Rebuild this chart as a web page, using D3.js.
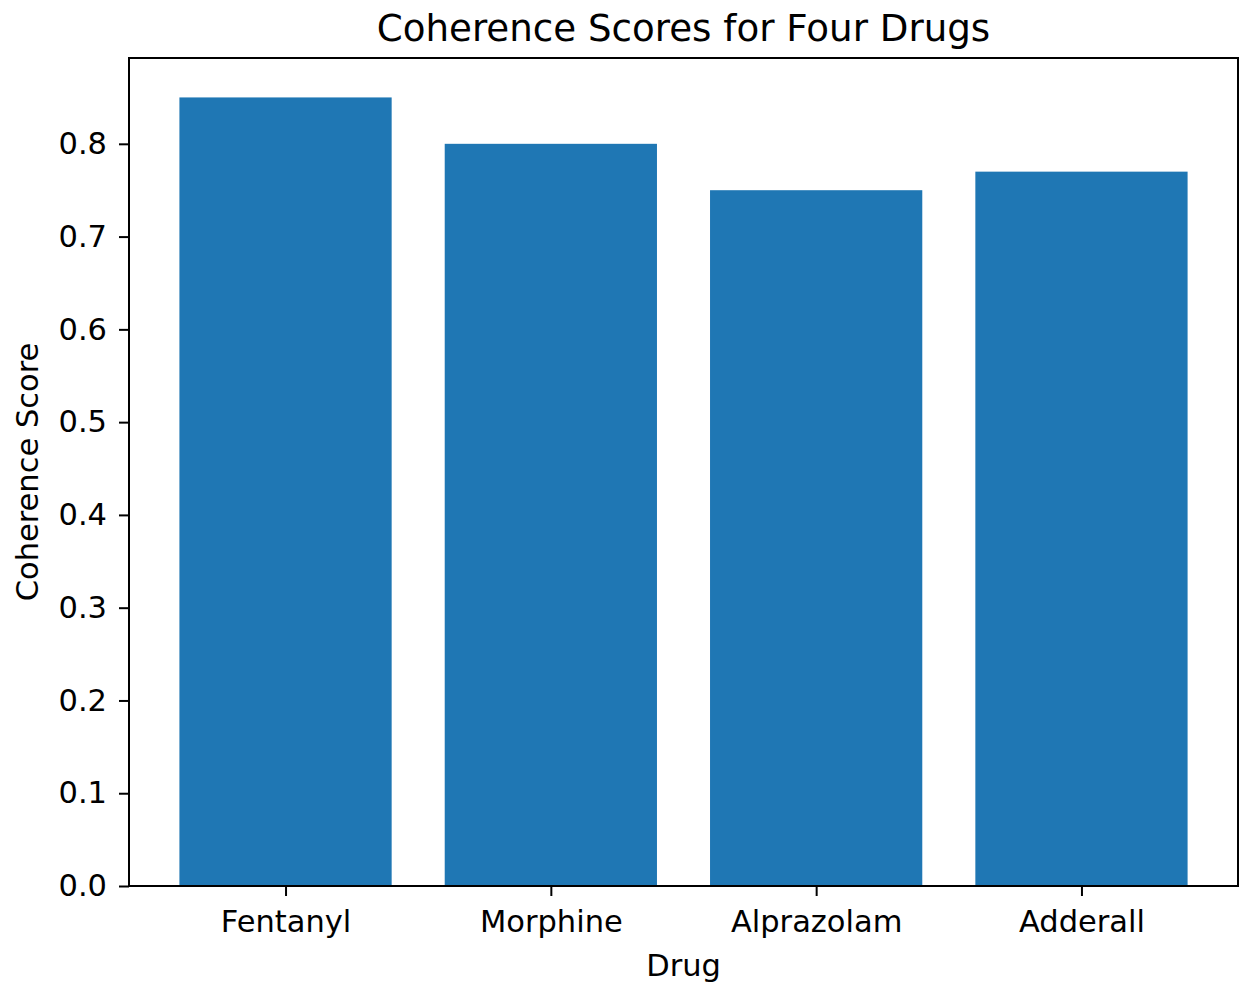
<!DOCTYPE html>
<html>
<head>
<meta charset="utf-8">
<script src="https://cdn.jsdelivr.net/npm/d3@7"></script>
<style>
  html, body { margin: 0; padding: 0; background: #fff; }
  text { font-family: "DejaVu Sans", sans-serif; fill: #000; }
</style>
</head>
<body>
<div id="chart"></div>
<script>
const drugs = ['Fentanyl', 'Morphine', 'Alprazolam', 'Adderall'];
const scores = [0.85, 0.80, 0.75, 0.77];
const yTicks = [0.0, 0.1, 0.2, 0.3, 0.4, 0.5, 0.6, 0.7, 0.8];

const width = 1242;
const height = 988;
const margin = {top: 58, right: 4, bottom: 102, left: 129};
const labelSize = 30.5;

const svg = d3.select('#chart').append('svg')
    .attr('width', width)
    .attr('height', height);

// matplotlib-like limits: bars of width 0.8, 5% x margin, y top = max * 1.05
const x = d3.scaleLinear()
    .domain([-0.59, drugs.length - 1 + 0.59])
    .range([margin.left, width - margin.right]);

const y = d3.scaleLinear()
    .domain([0, d3.max(scores) * 1.05])
    .range([height - margin.bottom, margin.top]);

const barW = 0.8;

svg.append('g')
  .selectAll('rect')
  .data(scores)
  .join('rect')
    .attr('x', (d, i) => x(i - barW / 2))
    .attr('width', (d, i) => x(i + barW / 2) - x(i - barW / 2))
    .attr('y', d => y(d))
    .attr('height', d => y(0) - y(d))
    .attr('fill', '#1f77b4');

const xAxis = svg.append('g')
    .attr('transform', `translate(0,${height - margin.bottom})`)
    .call(d3.axisBottom(x)
        .tickValues(d3.range(drugs.length))
        .tickFormat(i => drugs[i])
        .tickSize(10)
        .tickPadding(14)
        .tickSizeOuter(0));

const yAxis = svg.append('g')
    .attr('transform', `translate(${margin.left},0)`)
    .call(d3.axisLeft(y)
        .tickValues(yTicks)
        .tickFormat(d3.format('.1f'))
        .tickSize(10)
        .tickPadding(12)
        .tickSizeOuter(0));

[xAxis, yAxis].forEach(g => {
  g.select('.domain').remove();
  g.selectAll('.tick line').attr('stroke', '#000').attr('stroke-width', 2);
  g.selectAll('.tick text').attr('font-size', labelSize).attr('font-family', 'DejaVu Sans');
});

// axes frame
svg.append('rect')
    .attr('x', margin.left)
    .attr('y', margin.top)
    .attr('width', width - margin.right - margin.left)
    .attr('height', height - margin.bottom - margin.top)
    .attr('fill', 'none')
    .attr('stroke', '#000')
    .attr('stroke-width', 2);

svg.append('text')
    .attr('x', (margin.left + width - margin.right) / 2)
    .attr('y', 41)
    .attr('text-anchor', 'middle')
    .attr('font-size', 37.2)
    .text('Coherence Scores for Four Drugs');

svg.append('text')
    .attr('x', (margin.left + width - margin.right) / 2)
    .attr('y', 976)
    .attr('text-anchor', 'middle')
    .attr('font-size', labelSize)
    .text('Drug');

svg.append('text')
    .attr('transform', `translate(38,${(margin.top + height - margin.bottom) / 2}) rotate(-90)`)
    .attr('text-anchor', 'middle')
    .attr('font-size', labelSize)
    .text('Coherence Score');
</script>
</body>
</html>
